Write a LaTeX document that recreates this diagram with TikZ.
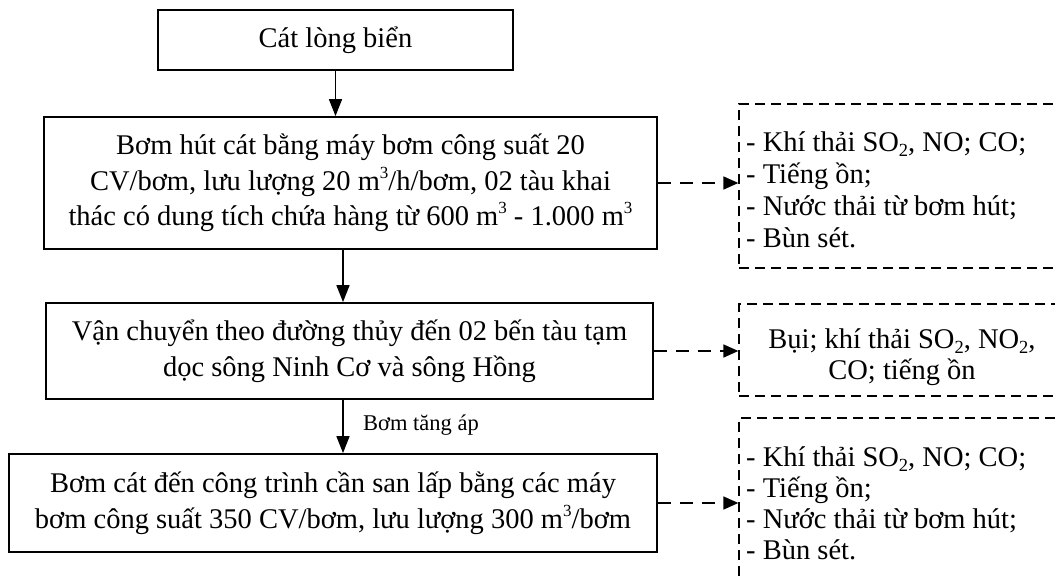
\documentclass[tikz,border=0pt]{standalone}
\usepackage{fontspec}
\setmainfont{Liberation Serif}
\usetikzlibrary{arrows.meta,calc}
\newcommand{\mysup}[1]{\raisebox{0.42em}{\fontsize{17}{17}\selectfont #1}}
\newcommand{\mysub}[1]{\raisebox{-0.17em}{\fontsize{18.5}{18.5}\selectfont #1}}
\begin{document}
\begin{tikzpicture}[x=1pt,y=-1pt,
  proc/.style={draw,line width=1.8pt,align=center,inner sep=0pt,font=\fontsize{28.5}{35.5}\selectfont},
  dbox/.style={draw,line width=1.3pt,dash pattern=on 10pt off 6pt,inner sep=0pt},
  arr/.style={line width=1.6pt,-{Triangle[length=17pt,width=13pt]}},
  darr/.style={line width=1.6pt,dash pattern=on 13pt off 9pt,-{Triangle[length=15pt,width=13pt]}},
  dtext/.style={inner sep=0pt,font=\fontsize{28.5}{#1}\selectfont},
  lbl/.style={inner sep=0pt,font=\fontsize{22.5}{26}\selectfont}
]
\useasboundingbox (0,0) rectangle (1055,576);
\node[proc,minimum width=355,minimum height=60] (b1) at (335.5,40) {Cát lòng biển};
\node[proc,minimum width=613,minimum height=132] (b2) at (350.5,183) {Bơm hút cát bằng máy bơm công suất 20\\CV/bơm, lưu lượng 20 m\mysup{3}/h/bơm, 02 tàu khai\\thác có dung tích chứa hàng từ 600 m\mysup{3} - 1.000 m\mysup{3}};
\node[proc,minimum width=607,minimum height=96] (b3) at (349.5,351) {Vận chuyển theo đường thủy đến 02 bến tàu tạm\\dọc sông Ninh Cơ và sông Hồng};
\node[proc,minimum width=648,minimum height=98] (b4) at (333,503) {Bơm cát đến công trình cần san lấp bằng các máy\\bơm công suất 350 CV/bơm, lưu lượng 300 m\mysup{3}/bơm};

\node[dbox,minimum width=331,minimum height=164] (d1) at (904.5,186) {};
\node[dbox,minimum width=331,minimum height=92] (d2) at (904.5,350) {};
\node[dbox,minimum width=331,minimum height=182] (d3) at (904.5,509) {};

\node[dtext=32,anchor=west,align=left] (t1) at (746,190) {- Khí thải SO\mysub{2}, NO; CO;\\- Tiếng ồn;\\- Nước thải từ bơm hút;\\- Bùn sét.};
\node[dtext=31,align=center] (t2) at (902,357) {Bụi; khí thải SO\mysub{2}, NO\mysub{2},\\CO; tiếng ồn};
\node[dtext=31,anchor=west,align=left] (t3) at (746,503) {- Khí thải SO\mysub{2}, NO; CO;\\- Tiếng ồn;\\- Nước thải từ bơm hút;\\- Bùn sét.};

\draw[arr] (b1.south) -- (b1.south |- b2.north);
\draw[arr] ([xshift=-7.5pt]b2.south) -- ([xshift=-7.5pt]b2.south |- b3.north);
\draw[arr] ([xshift=-6.5pt]b3.south) coordinate (a3) -- (a3 |- b4.north);
\node[lbl,anchor=west] (lab) at (363,425) {Bơm tăng áp};

\draw[darr] (b2.east) -- (b2.east -| d1.west);
\draw[darr] (b3.east) -- (b3.east -| d2.west);
\draw[darr] (b4.east) -- (b4.east -| d3.west);
\end{tikzpicture}
\end{document}
